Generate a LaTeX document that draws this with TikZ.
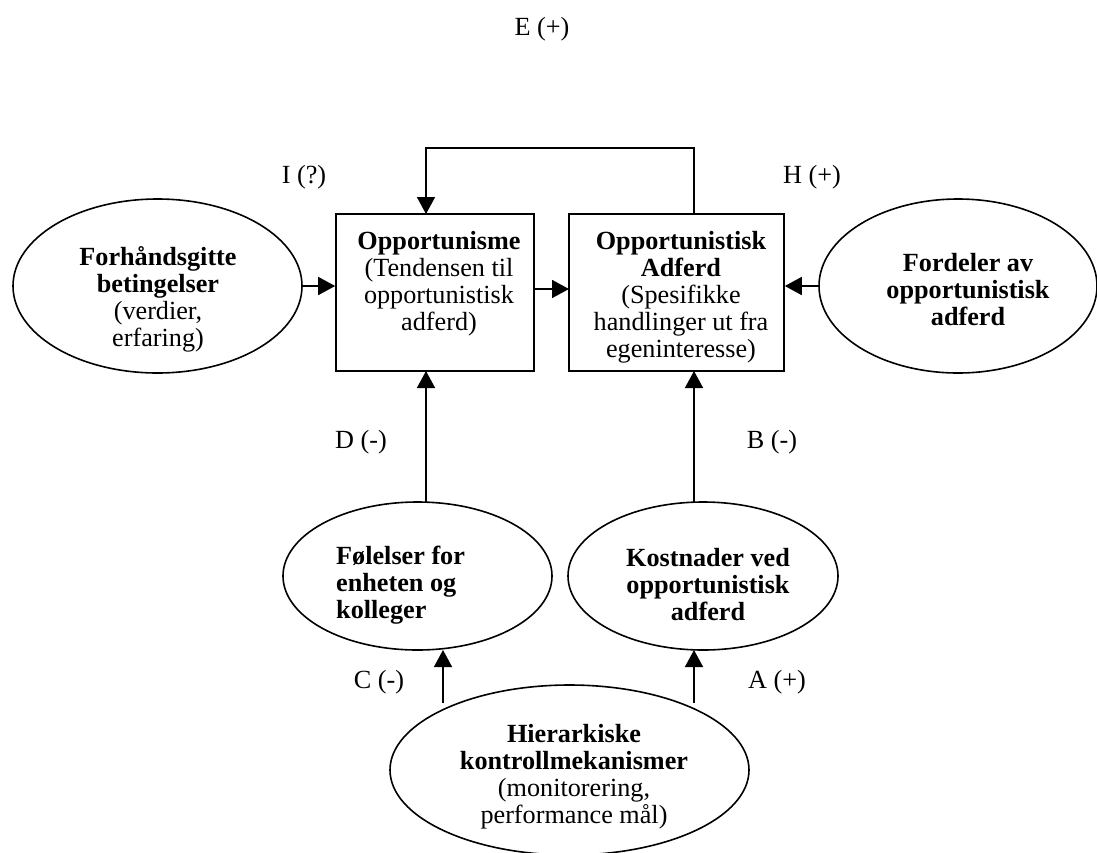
\documentclass[tikz,border=0pt]{standalone}
\usepackage{fontspec}
\setmainfont{Liberation Serif}
\usetikzlibrary{arrows.meta,shapes.geometric}
\begin{document}
\begin{tikzpicture}[x=1pt,y=-1pt,
  every node/.style={font=\fontsize{26.2pt}{27pt}\selectfont},
  boxnode/.style={draw,line width=1.6pt,inner sep=0pt},
  ellnode/.style={draw,ellipse,line width=1.6pt,inner sep=0pt},
  txt/.style={inner sep=0pt,align=center},
  lbl/.style={inner sep=0pt},
  arr/.style={line width=1.6pt,-{Triangle[length=17pt,width=18pt]}},
  ln/.style={line width=1.6pt}]
\useasboundingbox (0,0) rectangle (1097,852);
% boxes
\node[boxnode,minimum width=198pt,minimum height=157pt] (b1) at (435,292.5) {};
\node[boxnode,minimum width=215pt,minimum height=157pt] (b2) at (676.5,292.5) {};
% ellipses
\node[ellnode,minimum width=289pt,minimum height=174pt] (L) at (157.5,286) {};
\node[ellnode,minimum width=278pt,minimum height=174pt] (R) at (958,286) {};
\node[ellnode,minimum width=269pt,minimum height=148pt] (F) at (417.5,576) {};
\node[ellnode,minimum width=270pt,minimum height=148pt] (K) at (703,576) {};
\node[ellnode,minimum width=359pt,minimum height=170pt] (H) at (569.5,770) {};
% texts
\node[txt] (t1) at (439,284) {\textbf{Opportunisme}\\(Tendensen til\\opportunistisk\\adferd)};
\node[txt] (t2) at (681,297) {\textbf{Opportunistisk}\\\textbf{Adferd}\\(Spesifikke\\handlinger ut fra\\egeninteresse)};
\node[txt] (tL) at (158,299) {\textbf{Forhåndsgitte}\\\textbf{betingelser}\\(verdier,\\erfaring)};
\node[txt,font=\fontsize{26.2pt}{27pt}\selectfont\bfseries] (tR) at (968,290) {Fordeler av\\opportunistisk\\adferd};
\node[txt,align=left,anchor=west,font=\fontsize{26.2pt}{27pt}\selectfont\bfseries] (tF) at (336,585) {Følelser for\\enheten og\\kolleger};
\node[txt,font=\fontsize{26.2pt}{27pt}\selectfont\bfseries] (tK) at (708,585) {Kostnader ved\\opportunistisk\\adferd};
\node[txt] (tH) at (574,777) {\textbf{Hierarkiske}\\\textbf{kontrollmekanismer}\\(monitorering,\\performance mål)};
% labels
\node[lbl] (lE) at (542,29) {E (+)};
\node[lbl] (lI) at (304,177) {I (?)};
\node[lbl] (lH) at (812,177) {H (+)};
\node[lbl] (lD) at (361,442) {D (-)};
\node[lbl] (lB) at (772,442) {B (-)};
\node[lbl] (lC) at (379,682) {C (-)};
\node[lbl] (lA) at (777,682) {A (+)};
% connector points
\coordinate (fbR) at (694,214);
\coordinate (fbTop) at (426,148);
\coordinate (fbL) at (426,214);
\coordinate (dS) at (426,502);
\coordinate (dE) at (426,371);
\coordinate (bS) at (694,502);
\coordinate (bE) at (694,371);
\coordinate (cS) at (443,703);
\coordinate (cE) at (443,650);
\coordinate (aS) at (694,703);
\coordinate (aE) at (694,650);
\coordinate (mS) at (534,289);
\coordinate (mE) at (569,289);
% connectors
\draw[arr] (L.east) -- (L.east -| b1.west);
\draw[arr] (R.west) -- (R.west -| b2.east);
\draw[arr] (mS) -- (mE);
\draw[arr] (fbR) |- (fbTop) -- (fbL);
\draw[arr] (dS) -- (dE);
\draw[arr] (bS) -- (bE);
\draw[arr] (cS) -- (cE);
\draw[arr] (aS) -- (aE);
\end{tikzpicture}
\end{document}
